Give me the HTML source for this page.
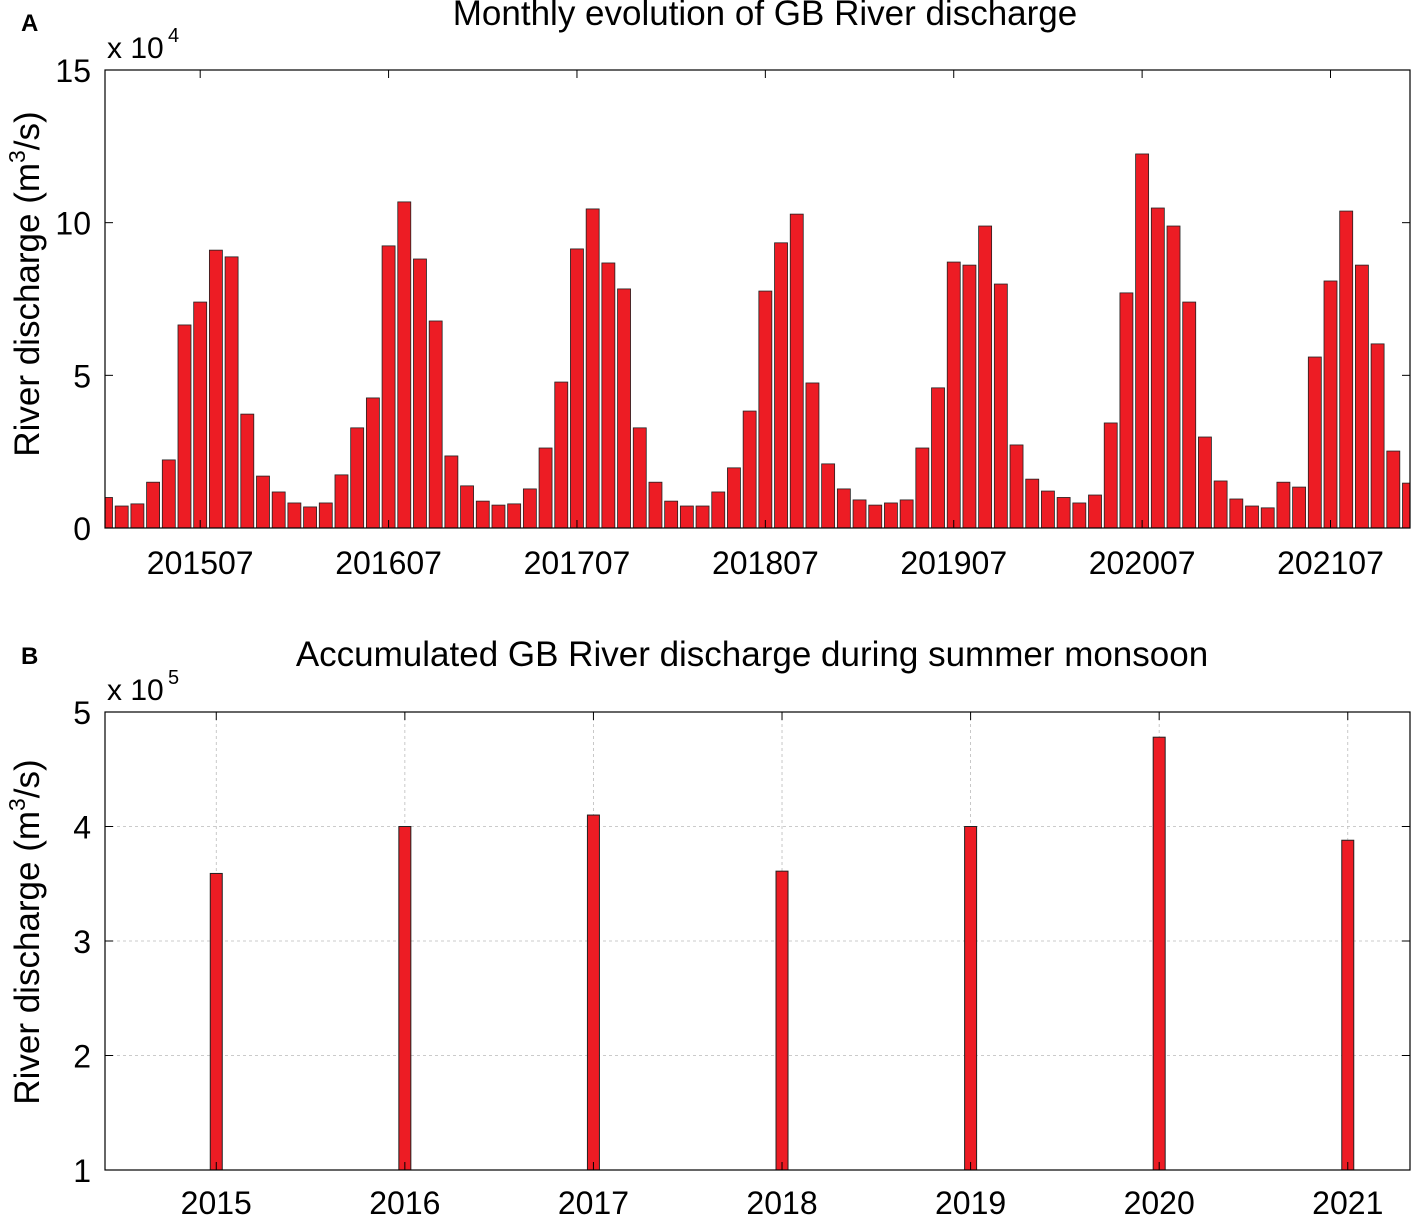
<!DOCTYPE html>
<html><head><meta charset="utf-8"><style>
html,body{margin:0;padding:0;background:#fff;}
svg{display:block;font-family:"Liberation Sans",Arial,sans-serif;}
</style></head><body>
<svg id="c" width="1417" height="1216"></svg>
<script>
const monthlyYears=[2015,2016,2017,2018,2019,2020,2021];
const monthlyValues=[
1.0,0.72,0.79,1.5,2.23,6.65,7.4,9.1,8.88,3.73,1.7,1.18,
0.82,0.69,0.82,1.74,3.28,4.26,9.24,10.68,8.81,6.78,2.36,1.38,
0.88,0.75,0.79,1.28,2.62,4.78,9.14,10.45,8.68,7.83,3.28,1.5,
0.88,0.72,0.72,1.18,1.97,3.83,7.76,9.34,10.28,4.75,2.1,1.28,
0.92,0.75,0.82,0.92,2.62,4.59,8.71,8.61,9.89,7.99,2.72,1.6,
1.21,1.0,0.82,1.08,3.44,7.7,12.25,10.48,9.89,7.4,2.98,1.54,
0.95,0.72,0.66,1.5,1.34,5.6,8.09,10.38,8.61,6.03,2.52,1.47];
const topTicks=[0,5,10,15];
const topXLabels=["201507","201607","201707","201807","201907","202007","202107"];
const accYears=[2015,2016,2017,2018,2019,2020,2021];
const accValues=[3.59,4.0,4.1,3.61,4.0,4.78,3.88];
const botTicks=[1,2,3,4,5];

const S=document.getElementById('c');const NS='http://www.w3.org/2000/svg';
function mk(t,a,txt){const e=document.createElementNS(NS,t);for(const k in a)e.setAttribute(k,a[k]);if(txt!==undefined)e.textContent=txt;S.appendChild(e);return e;}

// ---- Panel A ----
const L=105,R=1410,AT=70,AB=528;
const ax=i=>L+1+(i)*(R-L-2)/83;
const ay=v=>AB-(v/15)*(AB-AT);
let e;
monthlyValues.forEach((v,i)=>{
  const cx=ax(i),w=13;
  let x0=Math.max(L,cx-w/2),x1=Math.min(R,cx+w/2);
  e=mk('rect',{x:x0,y:ay(v),width:x1-x0,height:AB-ay(v),fill:'#ed1c24',stroke:'#222','stroke-width':0.8});
  
  
});
e=mk('rect',{x:L,y:AT,width:R-L,height:AB-AT,fill:'none',stroke:'#000','stroke-width':1.2});

topTicks.forEach(t=>{
  const y=ay(t);
  mk('line',{x1:L,x2:L+8,y1:y,y2:y,stroke:'#000'});mk('line',{x1:R,x2:R-8,y1:y,y2:y,stroke:'#000'});
  e=mk('text',{x:L-14,y:y+12,'text-anchor':'end','font-size':32},t);
  
});
topXLabels.forEach((lab,k)=>{
  const x=ax(6+12*k);
  mk('line',{x1:x,x2:x,y1:AB,y2:AB-8,stroke:'#000'});mk('line',{x1:x,x2:x,y1:AT,y2:AT+8,stroke:'#000'});
  e=mk('text',{x:x,y:574,'text-anchor':'middle','font-size':32},lab);
  
});
e=mk('text',{x:765,y:25,'text-anchor':'middle','font-size':35},'Monthly evolution of GB River discharge');

e=mk('text',{x:21,y:31,'font-size':24,'font-weight':'bold'},'A');

e=mk('text',{x:107,y:58,'font-size':30},'x 10');mk('text',{x:168,y:42,'font-size':20},'4');

e=mk('text',{transform:'translate(39,284) rotate(-90)','text-anchor':'middle','font-size':35});
e.innerHTML='River discharge (m<tspan dy="-14" font-size="23">3</tspan><tspan dy="14">/s)</tspan>';


// ---- Panel B ----
const BT=712,BB=1170,x0y=2014.41,x1y=2021.33;
const bx=y=>L+(y-x0y)/(x1y-x0y)*(R-L);
const by=v=>BB-(v-1)/4*(BB-BT);
botTicks.forEach(t=>{
  const y=by(t);
  if(t>1&&t<5)mk('line',{x1:L,x2:R,y1:y,y2:y,stroke:'#bbb','stroke-dasharray':'3,3','stroke-width':0.8});
});
accYears.forEach(yr=>{
  const x=bx(yr);
  mk('line',{x1:x,x2:x,y1:BT,y2:BB,stroke:'#bbb','stroke-dasharray':'3,3','stroke-width':0.8});
});
accValues.forEach((v,i)=>{
  const x=bx(accYears[i]);
  e=mk('rect',{x:x-6,y:by(v),width:12,height:BB-by(v),fill:'#ed1c24',stroke:'#222','stroke-width':1});
  
  
});
e=mk('rect',{x:L,y:BT,width:R-L,height:BB-BT,fill:'none',stroke:'#000','stroke-width':1.2});

botTicks.forEach(t=>{
  const y=by(t);
  mk('line',{x1:L,x2:L+8,y1:y,y2:y,stroke:'#000'});mk('line',{x1:R,x2:R-8,y1:y,y2:y,stroke:'#000'});
  e=mk('text',{x:L-14,y:y+12,'text-anchor':'end','font-size':32},t);
  
});
accYears.forEach(yr=>{
  const x=bx(yr);
  mk('line',{x1:x,x2:x,y1:BB,y2:BB-8,stroke:'#000'});mk('line',{x1:x,x2:x,y1:BT,y2:BT+8,stroke:'#000'});
  e=mk('text',{x:x,y:1214,'text-anchor':'middle','font-size':32},yr);
  
});
e=mk('text',{x:752,y:666,'text-anchor':'middle','font-size':35},'Accumulated GB River discharge during summer monsoon');

e=mk('text',{x:21,y:664,'font-size':24,'font-weight':'bold'},'B');

e=mk('text',{x:107,y:700,'font-size':30},'x 10');mk('text',{x:168,y:684,'font-size':20},'5');

e=mk('text',{transform:'translate(39,932) rotate(-90)','text-anchor':'middle','font-size':35});
e.innerHTML='River discharge (m<tspan dy="-14" font-size="23">3</tspan><tspan dy="14">/s)</tspan>';

</script>
</body></html>
